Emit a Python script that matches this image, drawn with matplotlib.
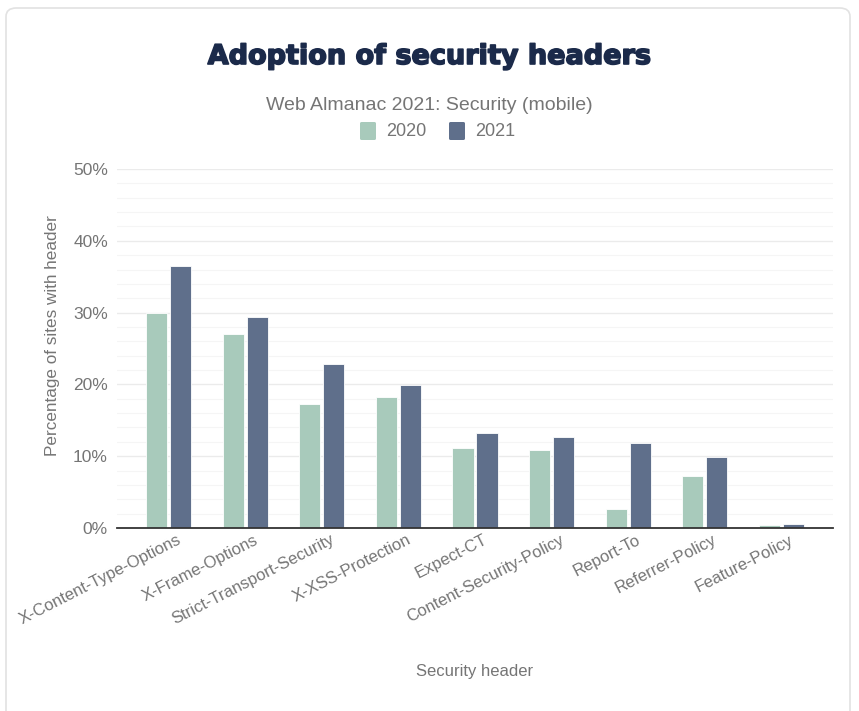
import matplotlib
matplotlib.use("Agg")
import matplotlib.pyplot as plt
import matplotlib.patheffects as pe
import matplotlib.transforms as mtrans
import numpy as np
from matplotlib.patches import FancyBboxPatch
from matplotlib.ticker import MultipleLocator, FuncFormatter

# data
headers = ["X-Content-Type-Options", "X-Frame-Options", "Strict-Transport-Security",
           "X-XSS-Protection", "Expect-CT", "Content-Security-Policy",
           "Report-To", "Referrer-Policy", "Feature-Policy"]
years = ["2020", "2021"]
pct_2020 = [30.0, 27.0, 17.3, 18.2, 11.1, 10.9, 2.6, 7.3, 0.4]
pct_2021 = [36.5, 29.4, 22.8, 19.9, 13.3, 12.7, 11.9, 9.9, 0.6]

green = "#a8cabb"
navy = "#5f6f8b"
grey_txt = "#757575"

plt.rcParams['font.family'] = ['Liberation Sans', 'DejaVu Sans']

fig = plt.figure(figsize=(8.59, 7.11), dpi=100)

# card background with rounded border
card = FancyBboxPatch((6/859, -20/711), 844/859, 723/711,
                      boxstyle="round,pad=0,rounding_size=0.012",
                      transform=fig.transFigure, facecolor="white",
                      edgecolor="#e2e2e2", linewidth=1.2, zorder=-10)
fig.patches.append(card)

ax = fig.add_axes([117/859, 1 - 528/711, (833-117)/859, (528-169)/711])
ax.set_zorder(2)
ax.set_facecolor("none")

x = np.arange(len(headers))
w = 0.275
off = 0.157
ax.bar(x - off, pct_2020, w, color=green, edgecolor="white", linewidth=0.6, zorder=3)
ax.bar(x + off, pct_2021, w, color=navy, edgecolor="white", linewidth=0.6, zorder=3)

ax.set_xlim(-0.677, len(headers) - 1 + 0.677)
ax.set_ylim(0, 50)
ax.yaxis.set_major_locator(MultipleLocator(10))
ax.yaxis.set_minor_locator(MultipleLocator(2))
ax.yaxis.set_major_formatter(FuncFormatter(lambda v, p: "%d%%" % v))
ax.grid(which='major', axis='y', color="#ebebeb", linewidth=1.0, zorder=0)
ax.grid(which='minor', axis='y', color="#f5f5f5", linewidth=0.8, zorder=0)

for s in ["top", "right", "left"]:
    ax.spines[s].set_visible(False)
ax.spines["bottom"].set_color("#333333")
ax.spines["bottom"].set_linewidth(1.3)
ax.spines["bottom"].set_zorder(4)

ax.tick_params(axis='y', which='both', length=0, pad=6.5, labelsize=12.5, labelcolor=grey_txt)
ax.tick_params(axis='x', length=0, pad=3, labelsize=12, labelcolor=grey_txt)
ax.set_xticks(x)
ax.set_xticklabels(headers, rotation=27, ha='right', rotation_mode='anchor')
shift = mtrans.ScaledTranslation(8/100, 0, fig.dpi_scale_trans)
for lbl in ax.get_xticklabels():
    lbl.set_transform(lbl.get_transform() + shift)

ax.set_ylabel("Percentage of sites with header", fontsize=12.3, color=grey_txt)
ax.yaxis.set_label_coords(-(117 - 60) / (833 - 117), (528 - 336) / (528 - 169))
ax.set_xlabel("Security header", fontsize=12, color=grey_txt)
ax.xaxis.set_label_coords(0.5, -(664 - 528) / (528 - 169))

fig.text(0.5, 1 - 57/711, "Adoption of security headers", ha='center', va='center',
         fontsize=19.5, fontweight='bold', color="#1b2a4a", family=['DejaVu Sans'],
         path_effects=[pe.withStroke(linewidth=1.2, foreground="#1b2a4a")])
fig.text(0.5, 1 - 105/711, "Web Almanac 2021: Security (mobile)", ha='center', va='center',
         fontsize=14, color=grey_txt)

# legend squares
for i, (lab, col) in enumerate(zip(years, [green, navy])):
    sx = (360 + i * 89) / 859
    fig.patches.append(FancyBboxPatch((sx, 1 - 140/711), 16/859, 18/711,
                                      boxstyle="round,pad=0,rounding_size=0.002",
                                      transform=fig.transFigure, facecolor=col,
                                      edgecolor='none'))
    fig.text(sx + 26/859, 1 - 131/711, lab, ha='left', va='center', fontsize=13, color=grey_txt)

fig.savefig("out.png", dpi=100, facecolor="white")
